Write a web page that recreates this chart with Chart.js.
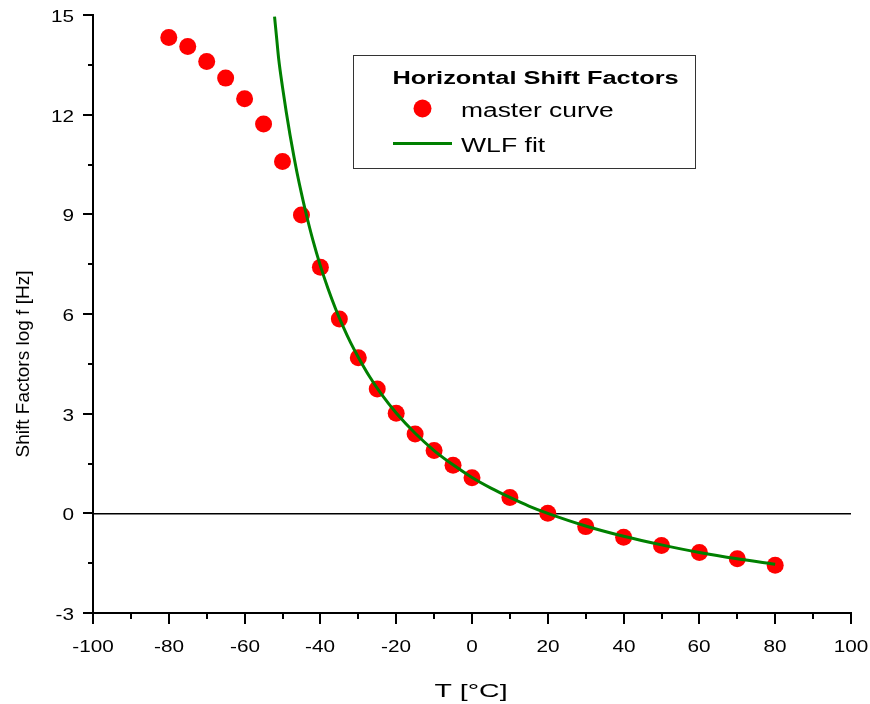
<!DOCTYPE html>
<html><head><meta charset="utf-8">
<script src="https://cdn.jsdelivr.net/npm/chart.js@4/dist/chart.umd.min.js"></script>
<style>html,body{margin:0;padding:0;background:#fff}canvas{display:block}</style>
</head><body>
<canvas id="c" width="870" height="704"></canvas>
<script>
// ---- data ----
const temperatures = [-80,-75,-70,-65,-60,-55,-50,-45,-40,-35,-30,-25,-20,-15,-10,-5,0,10,20,30,40,50,60,70,80];
const shiftFactors = [14.32,14.05,13.60,13.10,12.48,11.72,10.59,8.98,7.41,5.85,4.68,3.74,3.01,2.39,1.89,1.45,1.07,0.48,0.0,-0.40,-0.72,-0.97,-1.18,-1.37,-1.56];
const fitTemperatures = [-52.1,-51.5,-51,-50,-49,-48,-47,-46,-45,-44,-42,-40,-38,-36,-34,-32,-30,-27,-24,-20,-15,-10,-5,0,5,10,15,20,30,40,50,60,70,80];
const fitValues = [14.95,14.25,13.67,12.83,12.07,11.38,10.75,10.16,9.63,9.13,8.23,7.45,6.77,6.16,5.62,5.13,4.70,4.11,3.60,3.02,2.41,1.89,1.46,1.08,0.76,0.48,0.22,0.0,-0.38,-0.69,-0.95,-1.18,-1.37,-1.53];
const xTickLabels = [-100,-80,-60,-40,-20,0,20,40,60,80,100];
const xMinorTicks = [-90,-70,-50,-30,-10,10,30,50,70,90];
const yTickLabels = [-3,0,3,6,9,12,15];
const yMinorTicks = [-1.5,1.5,4.5,7.5,10.5,13.5];
const seriesNames = ['master curve','WLF fit'];
const legendTitle = 'Horizontal Shift Factors';
const xTitle = 'T [°C]';
const yTitle = 'Shift Factors log f [Hz]';

const FONT = '"Liberation Sans", Arial, sans-serif';

function txt(ctx, s, x, y, size, sx, align, base, rot, bold) {
  ctx.save();
  ctx.translate(x, y);
  if (rot) ctx.rotate(rot);
  ctx.scale(sx, 1);
  ctx.font = (bold ? 'bold ' : '') + size + 'px ' + FONT;
  ctx.fillStyle = '#000';
  ctx.textAlign = align;
  ctx.textBaseline = base;
  ctx.fillText(s, 0, 0);
  ctx.restore();
}

const decor = {
  id: 'decor',
  afterDraw(chart) {
    const ctx = chart.ctx;
    const a = chart.chartArea;
    const xs = chart.scales.x, ys = chart.scales.y;
    ctx.save();
    ctx.strokeStyle = '#000';
    ctx.lineWidth = 2;
    // x ticks
    xTickLabels.forEach(v => {
      const p = Math.round(xs.getPixelForValue(v));
      ctx.beginPath(); ctx.moveTo(p, a.bottom); ctx.lineTo(p, a.bottom + 11); ctx.stroke();
      txt(ctx, String(v), p, a.bottom + 39, 17, 1.22, 'center', 'alphabetic');
    });
    xMinorTicks.forEach(v => {
      const p = Math.round(xs.getPixelForValue(v));
      ctx.beginPath(); ctx.moveTo(p, a.bottom); ctx.lineTo(p, a.bottom + 6); ctx.stroke();
    });
    // y ticks
    yTickLabels.forEach(v => {
      const p = Math.round(ys.getPixelForValue(v));
      ctx.beginPath(); ctx.moveTo(a.left, p); ctx.lineTo(a.left - 10, p); ctx.stroke();
      txt(ctx, String(v), a.left - 19, p + 6.5, 17, 1.22, 'right', 'alphabetic');
    });
    yMinorTicks.forEach(v => {
      const p = Math.round(ys.getPixelForValue(v));
      ctx.beginPath(); ctx.moveTo(a.left, p); ctx.lineTo(a.left - 5, p); ctx.stroke();
    });
    // axis titles
    txt(ctx, xTitle, (a.left + a.right) / 2 - 1, 697, 19, 1.5, 'center', 'alphabetic');
    txt(ctx, yTitle, 29, 364, 19, 1.0, 'center', 'alphabetic', -Math.PI / 2);
    // legend box
    ctx.lineWidth = 1;
    ctx.strokeStyle = '#333';
    ctx.strokeRect(353.5, 55.5, 342, 113);
    txt(ctx, legendTitle, 535.5, 83.5, 18, 1.41, 'center', 'alphabetic', 0, true);
    ctx.fillStyle = '#ff0000';
    ctx.beginPath(); ctx.arc(422.5, 108.5, 9, 0, Math.PI * 2); ctx.fill();
    txt(ctx, seriesNames[0], 461, 117, 20, 1.32, 'left', 'alphabetic');
    ctx.strokeStyle = '#008000';
    ctx.lineWidth = 3;
    ctx.beginPath(); ctx.moveTo(393, 143.5); ctx.lineTo(452, 143.5); ctx.stroke();
    txt(ctx, seriesNames[1], 461, 152, 20, 1.33, 'left', 'alphabetic');
    ctx.restore();
  }
};

new Chart(document.getElementById('c'), {
  type: 'scatter',
  data: {
    datasets: [
      {
        label: seriesNames[1],
        data: fitTemperatures.map((t, i) => ({ x: t, y: fitValues[i] })),
        showLine: true,
        pointRadius: 0,
        borderColor: '#008000',
        borderWidth: 3,
        cubicInterpolationMode: 'monotone',
        fill: false,
        order: 0
      },
      {
        label: seriesNames[0],
        data: temperatures.map((t, i) => ({ x: t, y: shiftFactors[i] })),
        showLine: false,
        pointRadius: 8.5,
        pointBackgroundColor: '#ff0000',
        pointBorderWidth: 0,
        order: 1
      }
    ]
  },
  options: {
    responsive: false,
    animation: false,
    devicePixelRatio: 1,
    layout: { padding: { top: 15, right: 19, left: 0, bottom: 0 } },
    plugins: { legend: { display: false }, tooltip: { enabled: false } },
    scales: {
      x: {
        type: 'linear', min: -100, max: 100,
        ticks: { display: false, stepSize: 20 },
        grid: { display: false, drawTicks: false },
        border: { display: true, color: '#000', width: 2 },
        afterFit(s) { s.height = 91; }
      },
      y: {
        type: 'linear', min: -3, max: 15,
        ticks: { display: false, stepSize: 3 },
        grid: {
          drawTicks: false,
          color: c => (c.tick && c.tick.value === 0) ? '#000' : 'rgba(0,0,0,0)',
          lineWidth: 1.5
        },
        border: { display: true, color: '#000', width: 2 },
        afterFit(s) { s.width = 93; }
      }
    }
  },
  plugins: [decor]
});
</script>
</body></html>
